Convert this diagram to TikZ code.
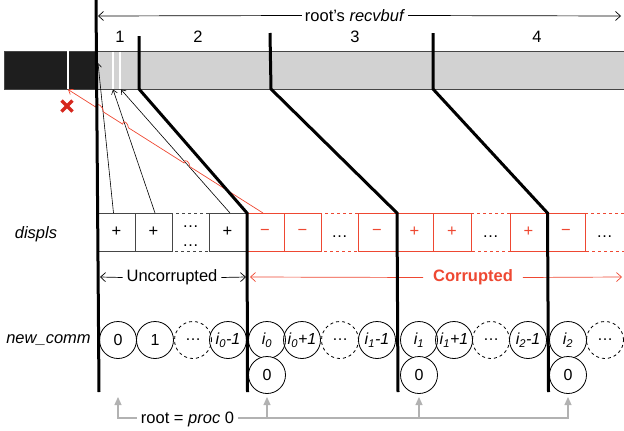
\documentclass[tikz,border=0pt]{standalone}
\usepackage{fontspec}
\setmainfont{Liberation Sans}
\usetikzlibrary{arrows.meta,calc}
\definecolor{cred}{RGB}{238,72,50}
\definecolor{xred}{RGB}{214,40,30}
\definecolor{barlight}{RGB}{210,210,210}
\definecolor{bardark}{RGB}{30,30,30}
\definecolor{gline}{RGB}{178,178,178}
\definecolor{boxline}{RGB}{70,70,70}
\begin{document}
\begin{tikzpicture}[x=1pt,y=-1pt,
  every node/.style={font=\fontsize{16.5}{19}\selectfont, inner sep=0pt, outer sep=0pt},
  bound/.style={line width=3pt, line join=miter},
  dbox/.style={draw=boxline, line width=0.8pt, minimum width=37pt, minimum height=38pt},
  ebox/.style={minimum width=37pt, minimum height=38pt},
  rbox/.style={draw=cred, line width=0.8pt, minimum height=38pt, text=cred},
  rebox/.style={minimum height=38pt},
  cnode/.style={circle, draw, line width=0.8pt, minimum size=37pt, font=\fontsize{16}{19}\selectfont},
  dcnode/.style={cnode, dashed},
  ptr/.style={-{Straight Barb[length=4pt,width=6pt]}, line width=0.6pt},
  barb/.style={-{Straight Barb[length=5pt,width=9pt]}, line width=0.7pt},
  garrow/.style={gline, line width=1.1pt, -{Triangle[length=8pt,width=7pt]}},
  hop/.style={}
]
\useasboundingbox (0,0) rectangle (624,431);

% buffer bar
\fill[bardark] (4,51) rectangle (96,89);
\fill[barlight] (96,51) rectangle (624,89);
\draw[boxline, line width=0.6pt] (624,51) -- (4,51) -- (4,89) -- (624,89);
\draw[white, line width=1.6pt] (68,51) -- (68,89);
\draw[white, line width=1.6pt] (113,51.5) -- (113,88.5);
\draw[white, line width=1.6pt] (120,51.5) -- (120,88.5);

% top labels
\node (rv) at (355,15.5) {root’s \textit{recvbuf}};
\coordinate (rvl) at (98,16);
\coordinate (rvr) at (621,16);
\draw[barb] ([xshift=-3pt]rv.west) -- (rvl);
\draw[barb] ([xshift=3pt]rv.east) -- (rvr);
\node (n1) at (120,37) {1};
\node (n2) at (198,37) {2};
\node (n3) at (355,37) {3};
\node (n4) at (537,37) {4};

% displs row
\node (dl) at (36,234) {\textit{displs}};
\node[dbox] (b1) at (116.5,232) {+};
\node[dbox] (b2) at (153.5,232) {+};
\node[ebox] (b3) at (190.5,232) {};
\node (b3a) at (190.5,227) {…};
\node (b3b) at (190.5,246) {…};
\draw[boxline, line width=0.8pt, dashed] (b3.north east) -- (b3.north west) -- (b3.south west) -- (b3.south east);
\node[dbox] (b4) at (227.5,232) {+};

\node[rbox, minimum width=38pt] (r1) at (265,232) {−};
\node[rbox, minimum width=37pt] (r2) at (302.5,232) {−};
\node[rebox, minimum width=37pt] (r3) at (339.5,232) {};
\node (r3t) at (339.5,237) {…};
\draw[cred, line width=0.8pt, dashed] (r3.north east) -- (r3.north west) -- (r3.south west) -- (r3.south east);
\node[rbox, minimum width=38pt] (r4) at (377,232) {−};
\node[rbox, minimum width=37pt] (r5) at (414.5,232) {+};
\node[rbox, minimum width=38pt] (r6) at (452,232) {+};
\node[rebox, minimum width=39pt] (r7) at (490.5,232) {};
\node (r7t) at (490.5,237) {…};
\draw[cred, line width=0.8pt, dashed] (r7.north east) -- (r7.north west) -- (r7.south west) -- (r7.south east);
\node[rbox, minimum width=37pt] (r8) at (528.5,232) {+};
\node[rbox, minimum width=38pt] (r9) at (566,232) {−};
\node[rebox, minimum width=39pt] (r10) at (604.5,232) {};
\node (r10t) at (604.5,237) {…};
\draw[cred, line width=0.8pt, dashed] (r10.north east) -- (r10.north west) -- (r10.south west) -- (r10.south east);

% pointers into the buffer
\coordinate (p0) at (98,63);
\coordinate (p1) at (113,89.5);
\coordinate (p2) at (121,89.5);
\coordinate (rt) at (68,89.5);
\draw[ptr] ([xshift=-3pt]b1.north) -- (p0);
\draw[ptr] ([xshift=1.5pt]b2.north) -- (p1);
\draw[ptr] ([xshift=2.5pt]b4.north) -- (p2);
\draw[cred, line width=0.7pt, -{Straight Barb[length=4pt,width=6pt]}]
  ([xshift=-2pt]r1.north)
  -- ($(rt)!0.625!([xshift=-2pt]r1.north)$) .. controls +(0,-5) and +(0,-5) .. ($(rt)!0.595!([xshift=-2pt]r1.north)$)
  -- ($(rt)!0.31!([xshift=-2pt]r1.north)$) .. controls +(0,-5) and +(0,-5) .. ($(rt)!0.28!([xshift=-2pt]r1.north)$)
  -- ($(rt)!0.182!([xshift=-2pt]r1.north)$) .. controls +(0,-6) and +(0,-6) .. ($(rt)!0.142!([xshift=-2pt]r1.north)$)
  -- (rt);

% red cross
\draw[xred, line width=3.2pt] (61.5,100.5) -- (72.5,111.5);
\draw[xred, line width=3.2pt] (61.5,111.5) -- (72.5,100.5);

% Uncorrupted / Corrupted
\node (unc) at (172,277.5) {Uncorrupted};
\coordinate (ul) at (100,277);
\coordinate (ur) at (246,277);
\draw[barb] ([xshift=-4pt]unc.west) -- (ul);
\draw[barb] ([xshift=4pt]unc.east) -- (ur);
\node[text=cred, font=\fontsize{16.5}{19}\selectfont\bfseries] (cor) at (473,277.5) {Corrupted};
\coordinate (cl) at (250,277);
\coordinate (cr) at (622,277);
\draw[barb, cred] ([xshift=-10pt]cor.west) -- (cl);
\draw[barb, cred] ([xshift=10pt]cor.east) -- (cr);

% new_comm row
\node (nc) at (48.5,340) {\textit{new\_comm}};
\node[cnode] (c1) at (118,340) {0};
\node[cnode] (c2) at (155,340) {1};
\node[dcnode] (c3) at (193,340) {…};
\node[cnode] (c4) at (228,340) {\itshape i\textsubscript{0}-1};
\node[cnode] (c5) at (267,340) {\itshape i\textsubscript{0}};
\node[cnode] (c6) at (302,340) {\itshape i\textsubscript{0}+1};
\node[dcnode] (c7) at (340,340) {…};
\node[cnode] (c8) at (377,340) {\itshape i\textsubscript{1}-1};
\node[cnode] (c9) at (419,340) {\itshape i\textsubscript{1}};
\node[cnode] (c10) at (454,340) {\itshape i\textsubscript{1}+1};
\node[dcnode] (c11) at (491,340) {…};
\node[cnode] (c12) at (528,340) {\itshape i\textsubscript{2}-1};
\node[cnode] (c13) at (568,340) {\itshape i\textsubscript{2}};
\node[dcnode] (c14) at (605,340) {…};
\node[cnode, fill=white] (z0) at (267,375) {0};
\node[cnode, fill=white] (z1) at (419,375) {0};
\node[cnode, fill=white] (z2) at (568,375) {0};

% partition boundaries
\draw[bound] (96,0) -- (99,392);
\draw[bound] (139,36) -- (139,89) -- (247,213) -- (247.5,392);
\draw[bound] (270,33) -- (271,89) -- (397,213) -- (398,392);
\draw[bound] (433,33) -- (433,89) -- (547.5,213) -- (548.5,392);

% root = proc 0
\node (rootlbl) at (187.5,419.5) {root = \textit{proc} 0};
\coordinate (t0) at ($(c1.south)+(0,38.5)$);
\coordinate (t1) at ($(z0.south)+(0,3.5)$);
\coordinate (t2) at ($(z1.south)+(0,3.5)$);
\coordinate (t3) at ($(z2.south)+(0,3.5)$);
\coordinate (gy) at ($(rootlbl.west)+(0,-1.5)$);
\draw[garrow] ([xshift=-4pt]gy) -| (t0);
\draw[garrow] ([xshift=4pt]gy -| rootlbl.east) -| (t3);
\draw[garrow] (t1 |- gy) -- (t1);
\draw[garrow] (t2 |- gy) -- (t2);
\end{tikzpicture}
\end{document}
